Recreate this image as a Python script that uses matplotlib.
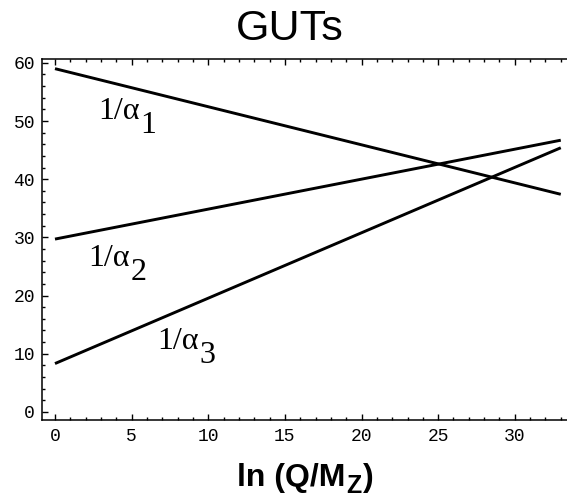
"""
GUTs: running of the inverse gauge couplings 1/alpha_i vs ln(Q/M_Z).
Output: out.png
"""
import matplotlib
matplotlib.use("Agg")
import matplotlib.pyplot as plt
from matplotlib.ticker import MultipleLocator
from matplotlib.transforms import offset_copy

# 1/alpha_i at the two ends of the range (straight lines, one-loop running)
t_ends = [0, 33]
inv_a1 = [59.0, 37.4]
inv_a2 = [29.7, 46.7]
inv_a3 = [8.3, 45.4]
subs = ["1", "2", "3"]
label_pos = [(2.8, 50.3), (2.2, 25.0), (6.7, 10.8)]

fig = plt.figure(figsize=(5.67, 4.99), dpi=100)
ax = fig.add_axes([0.074, 0.158, 0.938, 0.7234])

for ys in (inv_a1, inv_a2, inv_a3):
    ax.plot(t_ends, ys, color="black", lw=2.1, solid_capstyle="butt")

ax.set_xlim(-0.85, 33.85)
ax.set_ylim(-1.43, 60.63)
ax.xaxis.set_major_locator(MultipleLocator(5))
ax.xaxis.set_minor_locator(MultipleLocator(1))
ax.yaxis.set_major_locator(MultipleLocator(10))
ax.yaxis.set_minor_locator(MultipleLocator(2))
ax.tick_params(which="both", direction="in", top=True, right=False, width=1.0)
ax.tick_params(which="major", length=4.5, labelsize=13)
ax.tick_params(axis="x", which="major", pad=6)
ax.tick_params(axis="y", which="major", pad=5)
ax.tick_params(which="minor", length=2.5)
for lbl in ax.get_xticklabels() + ax.get_yticklabels():
    lbl.set_family("Liberation Mono")
ax.spines["right"].set_visible(False)
for s in ("left", "bottom", "top"):
    ax.spines[s].set_linewidth(1.1)

fig.canvas.draw()
r = fig.canvas.get_renderer()

# curve labels: "1/α" with a full-size, lowered subscript
for sub, (lx, ly) in zip(subs, label_pos):
    t = ax.text(lx, ly, "1/α", fontsize=23, family="Liberation Serif",
                ha="left", va="baseline")
    w = t.get_window_extent(r).width * 72 / fig.dpi
    tr = offset_copy(ax.transData, fig=fig, x=w + 0.5, y=-10, units="points")
    ax.text(lx, ly, sub, fontsize=23, family="Liberation Serif",
            ha="left", va="baseline", transform=tr)

fig.text(290 / 567, 1 - 29 / 499, "GUTs", fontsize=31, family="Liberation Sans",
         ha="center", va="center")

# x label: "ln (Q/M" + subscript Z + ")"
xl_kw = dict(family="Liberation Sans", fontweight="bold", va="baseline", ha="left")
x0, yb = 237 / 567, 1 - 486 / 499
p1 = fig.text(x0, yb, "ln (Q/M", fontsize=23, **xl_kw)
w1 = p1.get_window_extent(r).width / fig.bbox.width
p2 = fig.text(x0 + w1 + 0.002, yb - 7 / 499, "Z", fontsize=18, **xl_kw)
w2 = p2.get_window_extent(r).width / fig.bbox.width
fig.text(x0 + w1 + w2 + 0.004, yb, ")", fontsize=23, **xl_kw)

fig.savefig("out.png", dpi=100, facecolor="white")
print("OK out.png")
